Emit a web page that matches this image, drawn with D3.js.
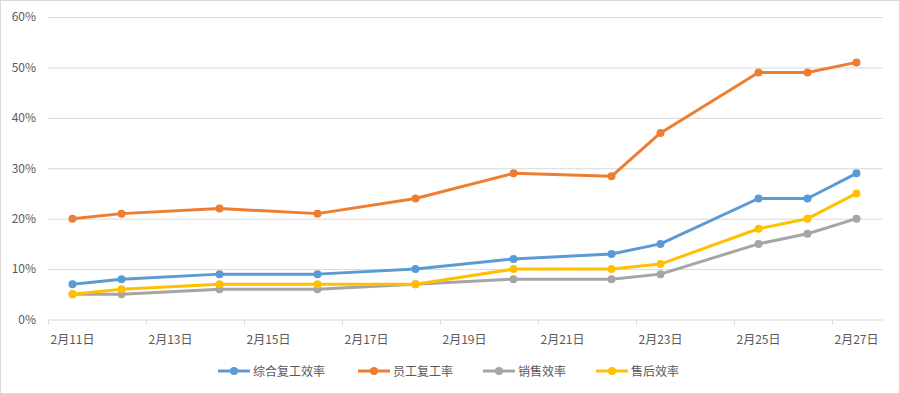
<!DOCTYPE html>
<html>
<head>
<meta charset="utf-8">
<script src="https://cdn.jsdelivr.net/npm/d3@7"></script>
<style>
    body { margin: 0; background: #fff; }
    svg { display: block; }
    text { font-family: "Microsoft YaHei", "Noto Sans CJK SC", sans-serif; fill: #595959; }
</style>
</head>
<body>
<svg id="chart" width="900" height="394"></svg>
<script>
// data (day of February)
var days = [11, 12, 14, 16, 18, 20, 22, 23, 25, 26, 27];
var tickDays = [11, 13, 15, 17, 19, 21, 23, 25, 27];
var yTicks = [0, 0.1, 0.2, 0.3, 0.4, 0.5, 0.6];

var seriesNames = ["综合复工效率", "员工复工率", "销售效率", "售后效率"];
var zongheValues = [0.07, 0.08, 0.09, 0.09, 0.10, 0.12, 0.13, 0.15, 0.24, 0.24, 0.29];
var yuangongValues = [0.20, 0.21, 0.22, 0.21, 0.24, 0.29, 0.284, 0.37, 0.49, 0.49, 0.51];
var xiaoshouValues = [0.05, 0.05, 0.06, 0.06, 0.07, 0.08, 0.08, 0.09, 0.15, 0.17, 0.20];
var shouhouValues = [0.05, 0.06, 0.07, 0.07, 0.07, 0.10, 0.10, 0.11, 0.18, 0.20, 0.25];

var COLORS = ["#5B9BD5", "#ED7D31", "#A5A5A5", "#FFC000"];

var series = [zongheValues, yuangongValues, xiaoshouValues, shouhouValues].map(function(vals, i) {
    return { name: seriesNames[i], color: COLORS[i], values: vals };
});

var svg = d3.select("#chart");

// outer border
svg.append("rect")
    .attr("x", 0.5).attr("y", 0.5)
    .attr("width", 899).attr("height", 393)
    .attr("fill", "#fff")
    .attr("stroke", "#d9d9d9");

// each day is a band, labels sit in the middle of the band
var x = d3.scaleLinear().domain([10.5, 27.5]).range([48, 881]);
var y = d3.scaleLinear().domain([0, 0.6]).range([319.5, 17]);

// gridlines + y labels
var yAxis = d3.axisLeft(y)
    .tickValues(yTicks)
    .tickFormat(d3.format(".0%"))
    .tickSize(-(883 - 48))
    .tickPadding(12);

svg.append("g")
    .attr("transform", "translate(48,0)")
    .call(yAxis)
    .call(function(g) {
        g.select(".domain").remove();
        g.selectAll(".tick line").attr("stroke", "#d9d9d9").attr("stroke-width", 1);
        g.selectAll(".tick text")
            .attr("font-size", 12)
            .attr("fill", "#595959")
            .style("font-family", "\"Microsoft YaHei\", \"Noto Sans CJK SC\", sans-serif");
    });

// x axis tick marks at the band edges
svg.append("g")
    .selectAll("line")
    .data(tickDays)
    .enter()
    .append("line")
    .attr("x1", function(d) { return Math.round(x(d - 0.5)) + 0.5; })
    .attr("x2", function(d) { return Math.round(x(d - 0.5)) + 0.5; })
    .attr("y1", y(0))
    .attr("y2", y(0) + 5)
    .attr("stroke", "#d9d9d9");

// x labels
svg.append("g")
    .selectAll("text")
    .data(tickDays)
    .enter()
    .append("text")
    .attr("x", function(d) { return x(d); })
    .attr("y", 344)
    .attr("text-anchor", "middle")
    .attr("font-size", 12)
    .text(function(d) { return "2月" + d + "日"; });

// lines
var line = d3.line()
    .x(function(d, i) { return x(days[i]); })
    .y(function(d) { return y(d); });

var groups = svg.append("g")
    .selectAll("g")
    .data(series)
    .enter()
    .append("g");

groups.append("path")
    .attr("d", function(d) { return line(d.values); })
    .attr("fill", "none")
    .attr("stroke", function(d) { return d.color; })
    .attr("stroke-width", 3)
    .attr("stroke-linejoin", "round");

groups.selectAll("circle")
    .data(function(d) { return d.values.map(function(v, i) { return { v: v, day: days[i], color: d.color }; }); })
    .enter()
    .append("circle")
    .attr("cx", function(d) { return x(d.day); })
    .attr("cy", function(d) { return y(d.v); })
    .attr("r", 4)
    .attr("fill", function(d) { return d.color; });

// legend
var legendX = [218, 358, 483, 596];
var legend = svg.append("g")
    .selectAll("g")
    .data(series)
    .enter()
    .append("g")
    .attr("transform", function(d, i) { return "translate(" + legendX[i] + ",371)"; });

legend.append("line")
    .attr("x1", 0).attr("x2", 32)
    .attr("y1", 0).attr("y2", 0)
    .attr("stroke", function(d) { return d.color; })
    .attr("stroke-width", 3);

legend.append("circle")
    .attr("cx", 16).attr("cy", 0).attr("r", 4)
    .attr("fill", function(d) { return d.color; });

legend.append("text")
    .attr("x", 35)
    .attr("y", 4.5)
    .attr("font-size", 12)
    .text(function(d) { return d.name; });
</script>
</body>
</html>
